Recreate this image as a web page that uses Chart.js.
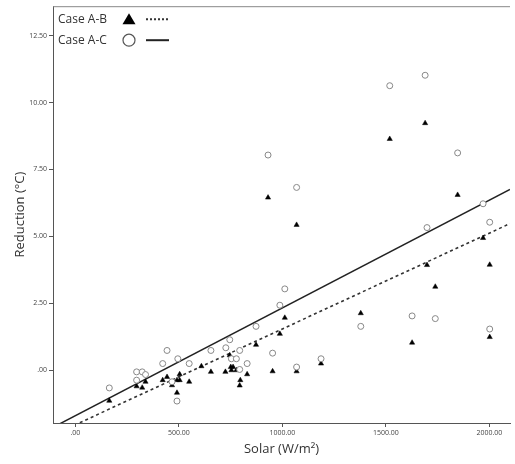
<!DOCTYPE html>
<html>
<head>
<meta charset="utf-8">
<script src="https://cdn.jsdelivr.net/npm/chart.js@4/dist/chart.umd.min.js"></script>
<style>
  html, body { margin: 0; padding: 0; background: #fff; }
  #wrap { width: 515px; height: 464px; position: relative; }
</style>
</head>
<body>
<div id="wrap"><canvas id="c" width="515" height="464"></canvas></div>
<script>
// ---- Data ----
const seriesNames = ["Case A-B", "Case A-C"];

// Case A-B (filled triangles)
const solarAB = [164, 296, 323, 339, 443, 422, 467, 504, 504, 491, 550, 491, 609, 655, 725, 746, 751, 762, 754, 778, 794, 797, 830, 873, 931, 953, 988, 1012, 1069, 1069, 1187, 1379, 1519, 1627, 1690, 1699, 1739, 1847, 1970, 2002, 2002];
const reductionAB = [-1.14, -0.60, -0.65, -0.43, -0.25, -0.37, -0.56, -0.15, -0.37, -0.37, -0.43, -0.84, 0.15, -0.06, -0.06, 0.56, 0.12, 0.12, 0.00, 0.00, -0.57, -0.37, -0.15, 0.95, 6.45, -0.04, 1.36, 1.96, 5.43, -0.04, 0.25, 2.13, 8.64, 1.03, 9.23, 3.93, 3.12, 6.55, 4.94, 3.94, 1.24];

// Case A-C (open circles)
const solarAC = [164, 296, 323, 339, 296, 443, 422, 495, 550, 467, 491, 655, 727, 746, 794, 754, 778, 830, 794, 873, 953, 931, 988, 1012, 1069, 1069, 1187, 1379, 1519, 1627, 1690, 1699, 1739, 1847, 1970, 2002, 2002];
const reductionAC = [-0.66, -0.06, -0.06, -0.16, -0.37, 0.74, 0.25, 0.43, 0.25, -0.43, -1.15, 0.74, 0.84, 1.14, 0.74, 0.43, 0.43, 0.25, 0.03, 1.64, 0.64, 8.04, 2.43, 3.04, 6.83, 0.12, 0.43, 1.64, 10.63, 2.03, 11.02, 5.33, 1.93, 8.12, 6.22, 5.53, 1.54];

// Fit lines (end values)
const fitSolar = [-110, 2100];
const fitAB = [-2.43, 5.48];
const fitAC = [-2.14, 6.76];

// Tick values
const xTicks = [0, 500, 1000, 1500, 2000];
const yTicks = [0, 2.5, 5, 7.5, 10, 12.5];

const toPts = (xs, ys) => xs.map((x, i) => ({ x: x, y: ys[i] }));
const fmt = v => (v === 0 ? ".00" : v.toFixed(2));

const AXIS = '#555';
const TEXT = '#444';
const FONT = "'Open Sans', 'Noto Sans', sans-serif";

const frameAndLegend = {
  id: 'frameAndLegend',
  afterDraw(chart) {
    const { ctx, chartArea: a } = chart;
    ctx.save();
    // top frame line
    ctx.strokeStyle = '#888';
    ctx.lineWidth = 1;
    ctx.beginPath();
    ctx.moveTo(a.left, a.top + 0.5);
    ctx.lineTo(a.right, a.top + 0.5);
    ctx.stroke();

    // legend
    ctx.font = "12px " + FONT;
    ctx.fillStyle = '#333';
    ctx.textBaseline = 'middle';
    ctx.textAlign = 'left';
    const lx = a.left + 5;
    const rows = [a.top + 13, a.top + 34];
    ctx.fillText(seriesNames[0], lx, rows[0]);
    ctx.fillText(seriesNames[1], lx, rows[1]);
    // triangle
    ctx.fillStyle = '#000';
    const tx = a.left + 76, ty = rows[0];
    ctx.beginPath();
    ctx.moveTo(tx, ty - 6);
    ctx.lineTo(tx + 6.5, ty + 5);
    ctx.lineTo(tx - 6.5, ty + 5);
    ctx.closePath();
    ctx.fill();
    // dotted line
    ctx.strokeStyle = '#333';
    ctx.lineWidth = 2;
    ctx.setLineDash([2, 2]);
    ctx.beginPath();
    ctx.moveTo(a.left + 93, ty);
    ctx.lineTo(a.left + 116, ty);
    ctx.stroke();
    ctx.setLineDash([]);
    // circle
    ctx.strokeStyle = '#555';
    ctx.lineWidth = 1.2;
    ctx.beginPath();
    ctx.arc(a.left + 76, rows[1], 6, 0, Math.PI * 2);
    ctx.stroke();
    // solid line
    ctx.strokeStyle = '#222';
    ctx.lineWidth = 2;
    ctx.beginPath();
    ctx.moveTo(a.left + 93, rows[1]);
    ctx.lineTo(a.left + 116, rows[1]);
    ctx.stroke();
    ctx.restore();
  }
};

new Chart(document.getElementById('c'), {
  data: {
    datasets: [
      {
        type: 'line',
        label: seriesNames[1] + ' fit',
        data: toPts(fitSolar, fitAC),
        borderColor: '#222',
        borderWidth: 1.5,
        pointRadius: 0,
        clip: 0,
        order: 1
      },
      {
        type: 'line',
        label: seriesNames[0] + ' fit',
        data: toPts(fitSolar, fitAB),
        borderColor: '#333',
        borderWidth: 1.6,
        borderDash: [3, 3],
        pointRadius: 0,
        clip: 0,
        order: 1
      },
      {
        type: 'scatter',
        label: seriesNames[1],
        data: toPts(solarAC, reductionAC),
        pointStyle: 'circle',
        pointRadius: 3,
        pointBorderWidth: 1,
        borderColor: '#888',
        backgroundColor: '#fff',
        order: 0
      },
      {
        type: 'scatter',
        label: seriesNames[0],
        data: toPts(solarAB, reductionAB),
        pointStyle: 'triangle',
        pointRadius: 3,
        pointBorderWidth: 0.5,
        borderColor: '#000',
        backgroundColor: '#000',
        order: 0
      }
    ]
  },
  options: {
    responsive: false,
    animation: false,
    layout: { padding: { top: 4, right: 0, left: 0, bottom: 0 } },
    plugins: {
      legend: { display: false },
      tooltip: { enabled: false }
    },
    scales: {
      x: {
        type: 'linear',
        min: -108,
        max: 2100,
        afterBuildTicks: s => { s.ticks = xTicks.map(v => ({ value: v })); },
        afterFit: s => { s.height = 41; },
        border: { display: true, color: AXIS, width: 1 },
        grid: { drawOnChartArea: false, drawTicks: true, tickLength: 4, tickColor: AXIS },
        ticks: {
          callback: v => fmt(v),
          font: { size: 7, family: FONT },
          color: TEXT,
          padding: 2,
          maxRotation: 0
        },
        title: {
          display: true,
          text: 'Solar (W/m²)',
          font: { size: 13, family: FONT },
          color: '#333',
          padding: { top: 4, bottom: 7 }
        }
      },
      y: {
        type: 'linear',
        min: -1.97,
        max: 13.6,
        afterBuildTicks: s => { s.ticks = yTicks.map(v => ({ value: v })); },
        afterFit: s => { s.width = 53; },
        border: { display: true, color: AXIS, width: 1 },
        grid: { drawOnChartArea: false, drawTicks: true, tickLength: 4, tickColor: AXIS },
        ticks: {
          callback: v => fmt(v),
          font: { size: 7, family: FONT },
          color: TEXT,
          padding: 2
        },
        title: {
          display: true,
          text: 'Reduction (°C)',
          font: { size: 13, family: FONT },
          color: '#333',
          padding: { top: 12, bottom: 0 }
        }
      }
    }
  },
  plugins: [frameAndLegend]
});
</script>
</body>
</html>
